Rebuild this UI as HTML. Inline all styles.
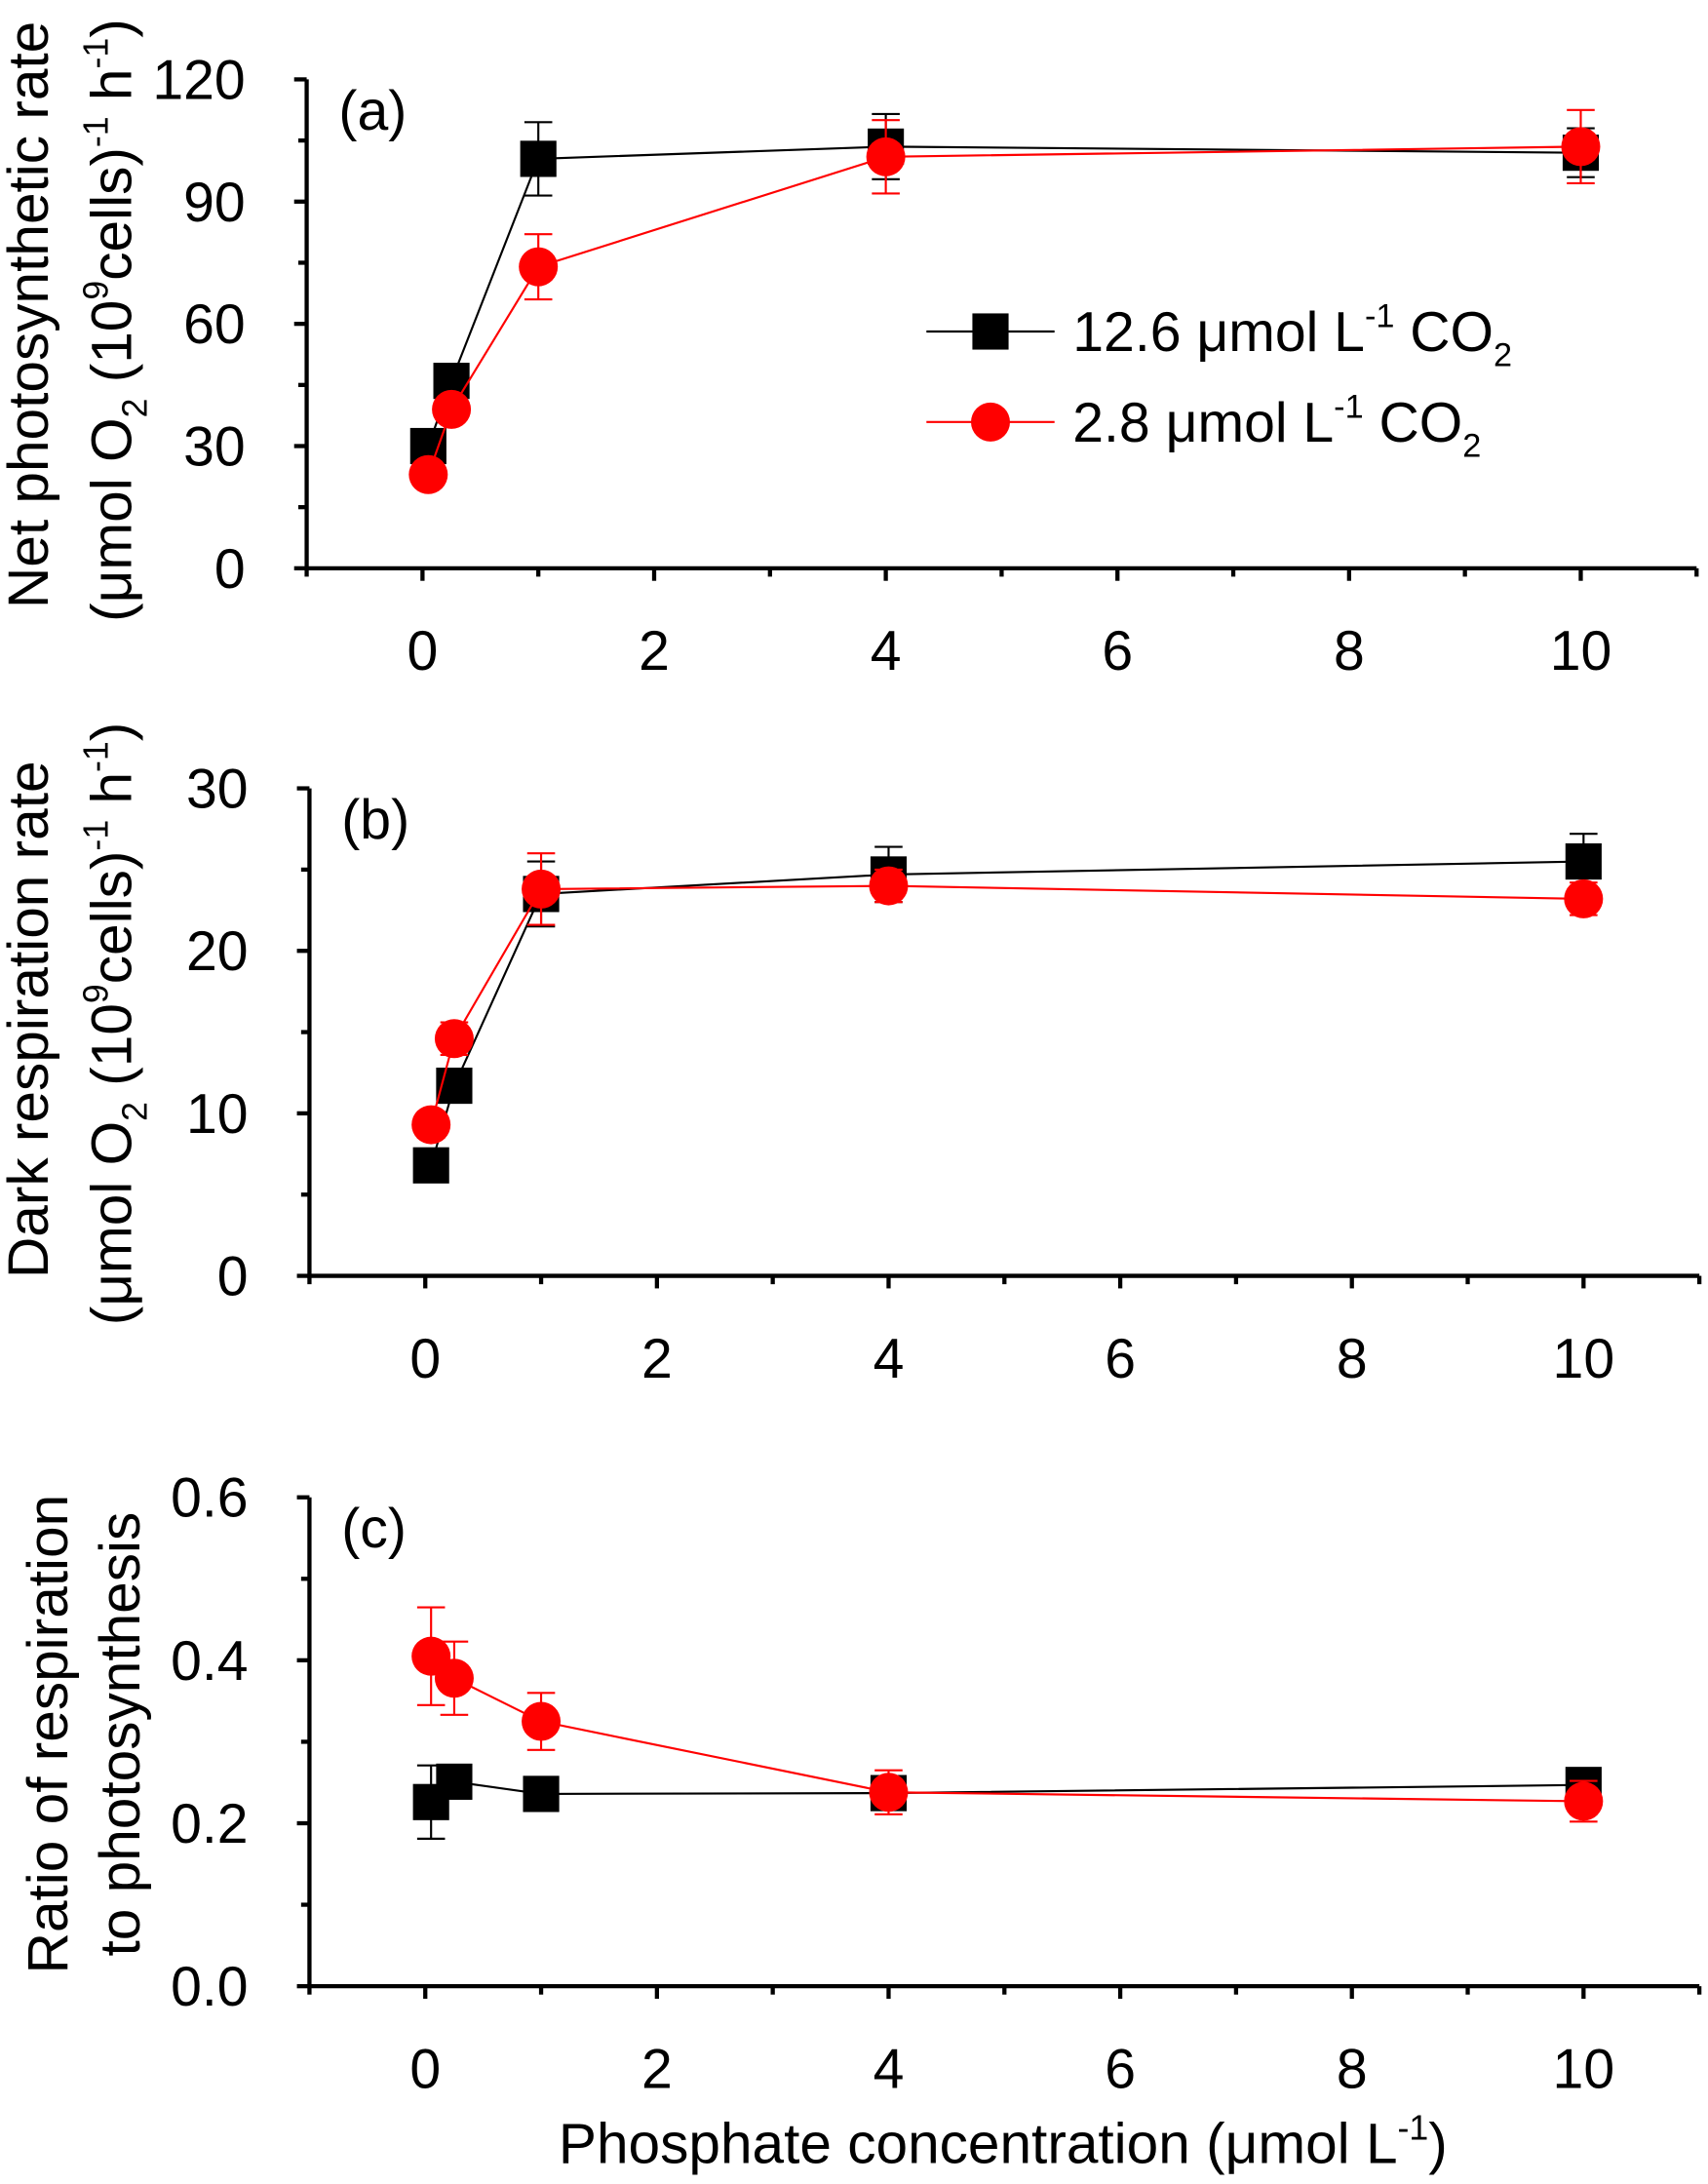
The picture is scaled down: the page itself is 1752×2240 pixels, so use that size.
<!DOCTYPE html>
<html><head><meta charset="utf-8"><style>
html,body{margin:0;padding:0;background:#fff}
svg{display:block}
text{font-family:"Liberation Sans",Arial,sans-serif;fill:#000}
</style></head><body>
<svg id="chart" width="1752" height="2240" viewBox="0 0 1226 1568" xmlns="http://www.w3.org/2000/svg"></svg>
<script>
const xValues=[0.05,0.25,1,4,10];
const xTicks=[0,2,4,6,8,10];
const aBlack=[30,46,100.5,103.5,102];
const aBlackErr=[4,4,9,8,6];
const aRed=[23,39,74,101,103.5];
const aRedErr=[3,3,8,9,9];
const bBlack=[6.8,11.7,23.5,24.7,25.5];
const bBlackErr=[0.8,1,2,1.7,1.7];
const bRed=[9.3,14.6,23.8,24,23.2];
const bRedErr=[0.8,1,2.2,1,1];
const cBlack=[0.226,0.251,0.236,0.237,0.247];
const cBlackErr=[0.045,0.02,0.02,0.02,0.02];
const cRed=[0.405,0.378,0.325,0.238,0.227];
const cRedErr=[0.06,0.045,0.035,0.027,0.025];
const aTicks=[0,30,60,90,120];
const bTicks=[0,10,20,30];
const cTicks=["0.0","0.2","0.4","0.6"];

const NS="http://www.w3.org/2000/svg";
const svg=document.getElementById('chart');
function el(tag,attrs,parent){const e=document.createElementNS(NS,tag);for(const k in attrs)e.setAttribute(k,attrs[k]);(parent||svg).appendChild(e);return e;}

function panel(cfg){
  const g=el('g',{});
  
  
  const xs=v=>cfg.x0+(v-(-1))/12*(cfg.x1-cfg.x0);
  const ys=v=>cfg.yb-(v/cfg.ymax)*(cfg.yb-cfg.yt);
  const ax=el('path',{d:`M${cfg.x0} ${cfg.yt}V${cfg.yb}H${cfg.x1}`,stroke:'#000','stroke-width':3,fill:'none'},g);
  
  
  for(let t=-1;t<=11;t++){
    const major=(t%2===0);
    el('line',{x1:xs(t),x2:xs(t),y1:cfg.yb,y2:cfg.yb+(major?9:6),stroke:'#000','stroke-width':3},g);
  }
  xTicks.forEach(t=>{
    const tx=el('text',{x:xs(t),y:cfg.yb+73,'font-size':40,'text-anchor':'middle'},g);
    tx.textContent=t;
    
    
  });
  const labels=cfg.ticks;
  const n=labels.length-1;
  for(let i=0;i<=2*n;i++){
    const v=cfg.ymax*i/(2*n);const y=ys(v);
    el('line',{x1:cfg.x0,x2:cfg.x0-(i%2===0?9:6),y1:y,y2:y,stroke:'#000','stroke-width':3},g);
  }
  labels.forEach((l,i)=>{
    const tx=el('text',{x:cfg.x0-44,y:ys(cfg.ymax*i/n)+14,'font-size':40,'text-anchor':'end'},g);
    tx.textContent=l;
    
    
  });
  const pl=el('text',{x:cfg.x0+23,y:cfg.yt+36,'font-size':40},g);
  pl.textContent='('+cfg.id+')';
  
  
  [[cfg.black,cfg.blackErr,'#000','square'],[cfg.red,cfg.redErr,'#f00','circle']].forEach(([vals,errs,col,shape])=>{
    const s=el('g',{},g);
    
    
    el('polyline',{points:xValues.map((x,i)=>xs(x)+','+ys(vals[i])).join(' '),fill:'none',stroke:col,'stroke-width':1.5},s);
    xValues.forEach((x,i)=>{
      const cx=xs(x),cy=ys(vals[i]),t=ys(vals[i]+errs[i]),b=ys(vals[i]-errs[i]);
      el('path',{d:`M${cx} ${t}V${b}M${cx-10} ${t}H${cx+10}M${cx-10} ${b}H${cx+10}`,stroke:col,'stroke-width':1.5,fill:'none'},s);
      let m;
      if(shape==='square') m=el('rect',{x:cx-13,y:cy-13,width:26,height:26,fill:col},s);
      else m=el('circle',{cx:cx,cy:cy,r:14,fill:col},s);
      
      
    });
  });
}
panel({id:'a',x0:220,x1:1218,yt:57,yb:408,ymax:120,ticks:aTicks,black:aBlack,blackErr:aBlackErr,red:aRed,redErr:aRedErr});
panel({id:'b',x0:222,x1:1220,yt:566,yb:916,ymax:30,ticks:bTicks,black:bBlack,blackErr:bBlackErr,red:bRed,redErr:bRedErr});
panel({id:'c',x0:222,x1:1220,yt:1075,yb:1426,ymax:0.6,ticks:cTicks,black:cBlack,blackErr:cBlackErr,red:cRed,redErr:cRedErr});
</script>
<svg style="position:absolute;left:0;top:0" width="1752" height="2240" viewBox="0 0 1226 1568">
<g>
<line x1="665" x2="757" y1="238" y2="238" stroke="#000" stroke-width="1.5"/>
<rect x="698" y="225" width="26" height="26" fill="#000"/>
<text x="770" y="252" font-size="40">12.6 μmol L<tspan font-size="24" dy="-17">-1</tspan><tspan dy="17"> CO</tspan><tspan font-size="24" dy="11">2</tspan></text>
<line x1="665" x2="757" y1="303" y2="303" stroke="#f00" stroke-width="1.5"/>
<circle cx="711" cy="303" r="14" fill="#f00"/>
<text x="770" y="317" font-size="40">2.8 μmol L<tspan font-size="24" dy="-17">-1</tspan><tspan dy="17"> CO</tspan><tspan font-size="24" dy="11">2</tspan></text>
</g>
<text transform="translate(34,226) rotate(-90)" text-anchor="middle" font-size="41">Net photosynthetic rate</text>
<text transform="translate(94,230) rotate(-90)" text-anchor="middle" font-size="41">(μmol O<tspan font-size="25" dy="11">2</tspan><tspan dy="-11"> (10</tspan><tspan font-size="25" dy="-17">9</tspan><tspan dy="17">cells)</tspan><tspan font-size="25" dy="-17">-1</tspan><tspan dy="17"> h</tspan><tspan font-size="25" dy="-17">-1</tspan><tspan dy="17">)</tspan></text>
<text transform="translate(34,732) rotate(-90)" text-anchor="middle" font-size="41">Dark respiration rate</text>
<text transform="translate(94,735) rotate(-90)" text-anchor="middle" font-size="41">(μmol O<tspan font-size="25" dy="11">2</tspan><tspan dy="-11"> (10</tspan><tspan font-size="25" dy="-17">9</tspan><tspan dy="17">cells)</tspan><tspan font-size="25" dy="-17">-1</tspan><tspan dy="17"> h</tspan><tspan font-size="25" dy="-17">-1</tspan><tspan dy="17">)</tspan></text>
<text transform="translate(48,1245) rotate(-90)" text-anchor="middle" font-size="41">Ratio of respiration</text>
<text transform="translate(100,1245) rotate(-90)" text-anchor="middle" font-size="41">to photosynthesis</text>
<text x="720" y="1553" text-anchor="middle" font-size="41">Phosphate concentration (μmol L<tspan font-size="25" dy="-17">-1</tspan><tspan dy="17">)</tspan></text>
</svg>
</body></html>
